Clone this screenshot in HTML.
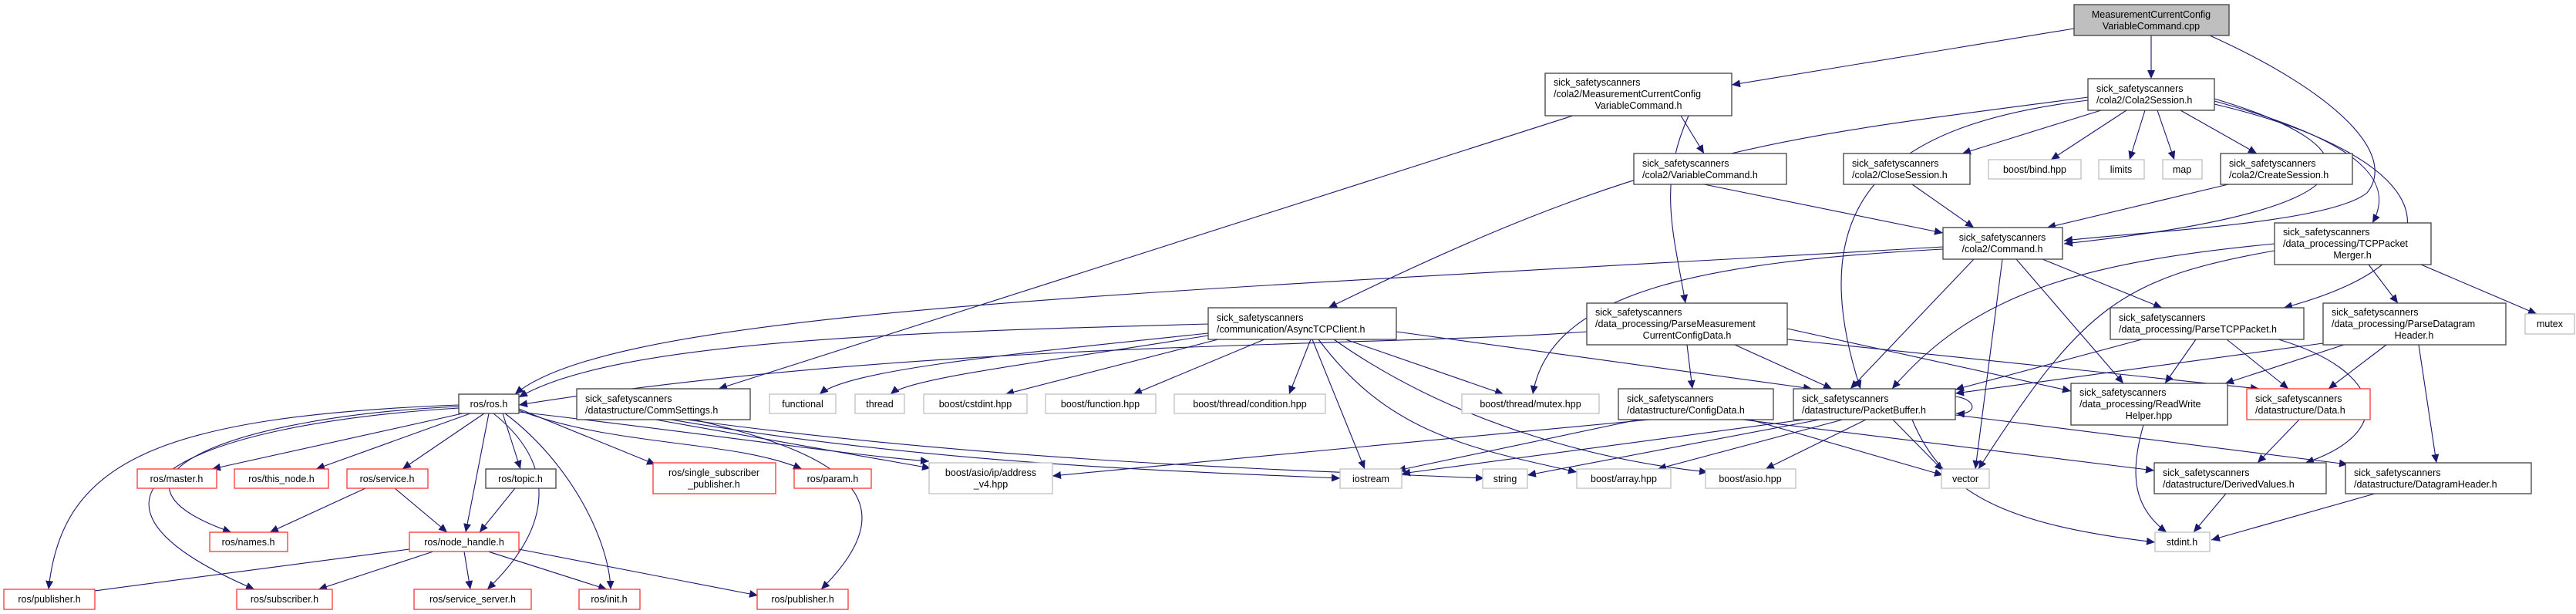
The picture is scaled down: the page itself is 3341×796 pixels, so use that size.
<!DOCTYPE html>
<html><head><meta charset="utf-8"><style>
html,body{margin:0;padding:0;background:#fff;}
svg{display:block;}
text{font-family:"Liberation Sans",sans-serif;font-size:12.5px;fill:#000;}
.n{fill:#fff;stroke:#404040;stroke-width:1.3;}
.g{fill:#fff;stroke:#bfbfbf;stroke-width:1.3;}
.r{fill:#fff;stroke:#ff3333;stroke-width:1.3;}
.e{fill:none;stroke:#191970;stroke-width:1.1;marker-end:url(#a);}
</style></head><body>
<svg width="3341" height="796" viewBox="0 0 3341 796" xmlns="http://www.w3.org/2000/svg">
<defs><marker id="a" markerUnits="userSpaceOnUse" markerWidth="12" markerHeight="10" refX="11" refY="5" orient="auto"><path d="M0,0 L11,5 L0,10 z" fill="#191970"/></marker></defs>
<g>
<path class="e" d="M2690,37 L2246,110"/>
<path class="e" d="M2790,46 L2790,102"/>
<path class="e" d="M2866,46 C3030,120 3110,200 3070,250 C3020,290 2780,300 2677,312"/>
<path class="e" d="M2725,143 L2545,199"/>
<path class="e" d="M2758,143 L2660,207"/>
<path class="e" d="M2782,143 L2762,207"/>
<path class="e" d="M2798,143 L2820,207"/>
<path class="e" d="M2828,143 L2927,199"/>
<path class="e" d="M2872,128 C3080,190 3110,270 2677,316"/>
<path class="e" d="M2872,131 C3050,180 3110,230 3077,289"/>
<path class="e" d="M2872,135 C3150,200 3220,330 2962,399"/>
<path class="e" d="M2708,126 C2300,180 2150,190 1723,399"/>
<path class="e" d="M2708,130 C2460,160 2330,250 2413,504"/>
<path class="e" d="M2210,239 L2520,302"/>
<path class="e" d="M2480,239 L2560,295"/>
<path class="e" d="M2890,239 L2655,295"/>
<path class="e" d="M2520,320 C1500,380 800,400 668,511"/>
<path class="e" d="M2520,323 C2200,340 2010,380 1988,511"/>
<path class="e" d="M2560,336 L2400,504"/>
<path class="e" d="M2615,336 L2754,497"/>
<path class="e" d="M2649,336 L2804,399"/>
<path class="e" d="M2597,336 L2562,608"/>
<path class="e" d="M2950,316 C2700,340 2560,380 2454,504"/>
<path class="e" d="M2950,325 C2750,360 2700,400 2566,608"/>
<path class="e" d="M3072,343 L3110,393"/>
<path class="e" d="M3140,343 L3290,407"/>
<path class="e" d="M2778,440 L2536,505"/>
<path class="e" d="M2848,440 L2808,497"/>
<path class="e" d="M2888,440 L2968,504"/>
<path class="e" d="M2955,440 C3090,480 3110,560 2990,600"/>
<path class="e" d="M3013,445 L2536,510"/>
<path class="e" d="M3040,447 L2886,497"/>
<path class="e" d="M3095,447 L3020,504"/>
<path class="e" d="M3137,447 L3160,600"/>
<path class="e" d="M2536,514 C2565,518 2565,538 2537,536"/>
<path class="e" d="M2536,538 L3045,602"/>
<path class="e" d="M2480,544 C2520,640 2600,680 2795,703"/>
<path class="e" d="M2340,544 L1818,614"/>
<path class="e" d="M2360,544 L1981,616"/>
<path class="e" d="M2390,544 L2150,608"/>
<path class="e" d="M2420,544 L2290,608"/>
<path class="e" d="M2455,544 L2520,610"/>
<path class="e" d="M2140,544 L1365,617"/>
<path class="e" d="M2125,544 L1812,610"/>
<path class="e" d="M2270,544 L2520,616"/>
<path class="e" d="M2260,544 L2794,610"/>
<path class="e" d="M2058,430 C1800,450 1200,440 673,525"/>
<path class="e" d="M2188,447 L2195,504"/>
<path class="e" d="M2250,447 L2376,504"/>
<path class="e" d="M2318,426 L2686,507"/>
<path class="e" d="M2318,440 L2930,504"/>
<path class="e" d="M2040,150 L932,504"/>
<path class="e" d="M2190,150 C2150,240 2170,300 2186,393"/>
<path class="e" d="M2180,150 L2210,199"/>
<path class="e" d="M1567,420 C1200,430 800,440 673,515"/>
<path class="e" d="M1567,432 C1300,460 1100,480 1063,511"/>
<path class="e" d="M1567,435 C1350,470 1180,490 1155,511"/>
<path class="e" d="M1580,440 L1304,511"/>
<path class="e" d="M1640,440 L1470,511"/>
<path class="e" d="M1700,440 L1672,511"/>
<path class="e" d="M1745,440 L1950,511"/>
<path class="e" d="M1702,440 L1770,608"/>
<path class="e" d="M1710,440 C1800,560 1900,580 2045,612"/>
<path class="e" d="M1730,440 C1900,560 2100,600 2215,612"/>
<path class="e" d="M1811,430 L2350,504"/>
<path class="e" d="M850,544 L1207,607"/>
<path class="e" d="M870,544 C1200,600 1500,610 1738,620"/>
<path class="e" d="M890,544 C1300,600 1700,610 1925,620"/>
<path class="e" d="M900,544 C1100,590 1180,650 1065,764"/>
<path class="e" d="M673,530 L850,602"/>
<path class="e" d="M673,532 C800,580 950,570 1040,608"/>
<path class="e" d="M673,534 C900,560 1100,590 1205,598"/>
<path class="e" d="M600,536 L275,608"/>
<path class="e" d="M610,536 L410,608"/>
<path class="e" d="M628,536 L522,608"/>
<path class="e" d="M652,536 L675,608"/>
<path class="e" d="M595,527 C300,540 100,620 300,690"/>
<path class="e" d="M634,536 L604,690"/>
<path class="e" d="M595,525 C200,540 80,600 63,764"/>
<path class="e" d="M595,529 C250,550 40,640 330,764"/>
<path class="e" d="M640,536 C720,600 720,680 632,764"/>
<path class="e" d="M655,536 C740,600 790,700 792,764"/>
<path class="e" d="M474,633 L350,690"/>
<path class="e" d="M512,633 L580,690"/>
<path class="e" d="M668,633 L622,690"/>
<path class="e" d="M531,712 L77,772"/>
<path class="e" d="M562,715 L413,764"/>
<path class="e" d="M602,715 L610,764"/>
<path class="e" d="M633,715 L787,764"/>
<path class="e" d="M673,712 L983,772"/>
<path class="e" d="M2982,544 L2928,600"/>
<path class="e" d="M2887,640 L2845,690"/>
<path class="e" d="M3080,640 L2868,700"/>
<path class="e" d="M2780,551 C2760,620 2770,660 2810,690"/>
</g>
<g>
<rect x="2690" y="6" width="201" height="40" fill="#bfbfbf" stroke="#404040" stroke-width="1.3"/>
<text x="2790" y="23" text-anchor="middle">MeasurementCurrentConfig</text><text x="2790" y="38" text-anchor="middle">VariableCommand.cpp</text>

<rect class="n" x="2004" y="95" width="242" height="55"/>
<text x="2015" y="111">sick_safetyscanners</text><text x="2015" y="126">/cola2/MeasurementCurrentConfig</text><text x="2125" y="141" text-anchor="middle">VariableCommand.h</text>

<rect class="n" x="2708" y="102" width="164" height="41"/>
<text x="2719" y="119">sick_safetyscanners</text><text x="2719" y="134">/cola2/Cola2Session.h</text>

<rect class="n" x="2119" y="199" width="198" height="40"/>
<text x="2130" y="216">sick_safetyscanners</text><text x="2130" y="231">/cola2/VariableCommand.h</text>

<rect class="n" x="2391" y="199" width="164" height="40"/>
<text x="2402" y="216">sick_safetyscanners</text><text x="2402" y="231">/cola2/CloseSession.h</text>

<rect class="g" x="2579" y="207" width="120" height="25"/><text x="2639" y="224" text-anchor="middle">boost/bind.hpp</text>
<rect class="g" x="2722" y="207" width="59" height="25"/><text x="2751" y="224" text-anchor="middle">limits</text>
<rect class="g" x="2805" y="207" width="51" height="25"/><text x="2830" y="224" text-anchor="middle">map</text>

<rect class="n" x="2880" y="199" width="171" height="40"/>
<text x="2891" y="216">sick_safetyscanners</text><text x="2891" y="231">/cola2/CreateSession.h</text>

<rect class="n" x="2520" y="295" width="155" height="41"/>
<text x="2597" y="312" text-anchor="middle">sick_safetyscanners</text><text x="2597" y="327" text-anchor="middle">/cola2/Command.h</text>

<rect class="n" x="2950" y="289" width="203" height="54"/>
<text x="2961" y="305">sick_safetyscanners</text><text x="2961" y="320">/data_processing/TCPPacket</text><text x="3051" y="335" text-anchor="middle">Merger.h</text>

<rect class="n" x="1567" y="399" width="244" height="41"/>
<text x="1578" y="416">sick_safetyscanners</text><text x="1578" y="431">/communication/AsyncTCPClient.h</text>

<rect class="n" x="2058" y="393" width="260" height="54"/>
<text x="2069" y="409">sick_safetyscanners</text><text x="2069" y="424">/data_processing/ParseMeasurement</text><text x="2188" y="439" text-anchor="middle">CurrentConfigData.h</text>

<rect class="n" x="2737" y="399" width="251" height="41"/>
<text x="2748" y="416">sick_safetyscanners</text><text x="2748" y="431">/data_processing/ParseTCPPacket.h</text>

<rect class="n" x="3013" y="393" width="237" height="54"/>
<text x="3024" y="409">sick_safetyscanners</text><text x="3024" y="424">/data_processing/ParseDatagram</text><text x="3131" y="439" text-anchor="middle">Header.h</text>

<rect class="g" x="3275" y="407" width="64" height="26"/><text x="3307" y="424" text-anchor="middle">mutex</text>

<rect class="n" x="595" y="511" width="78" height="25"/><text x="634" y="528" text-anchor="middle">ros/ros.h</text>

<rect class="n" x="748" y="504" width="225" height="40"/>
<text x="759" y="521">sick_safetyscanners</text><text x="759" y="536">/datastructure/CommSettings.h</text>

<rect class="g" x="998" y="511" width="86" height="25"/><text x="1041" y="528" text-anchor="middle">functional</text>
<rect class="g" x="1109" y="511" width="64" height="25"/><text x="1141" y="528" text-anchor="middle">thread</text>
<rect class="g" x="1198" y="511" width="134" height="25"/><text x="1265" y="528" text-anchor="middle">boost/cstdint.hpp</text>
<rect class="g" x="1356" y="511" width="143" height="25"/><text x="1427" y="528" text-anchor="middle">boost/function.hpp</text>
<rect class="g" x="1523" y="511" width="196" height="25"/><text x="1621" y="528" text-anchor="middle">boost/thread/condition.hpp</text>
<rect class="g" x="1896" y="511" width="178" height="25"/><text x="1985" y="528" text-anchor="middle">boost/thread/mutex.hpp</text>

<rect class="n" x="2099" y="504" width="201" height="40"/>
<text x="2110" y="521">sick_safetyscanners</text><text x="2110" y="536">/datastructure/ConfigData.h</text>

<rect class="n" x="2326" y="504" width="210" height="40"/>
<text x="2337" y="521">sick_safetyscanners</text><text x="2337" y="536">/datastructure/PacketBuffer.h</text>

<rect class="n" x="2686" y="497" width="203" height="54"/>
<text x="2697" y="513">sick_safetyscanners</text><text x="2697" y="528">/data_processing/ReadWrite</text><text x="2787" y="543" text-anchor="middle">Helper.hpp</text>

<rect class="r" x="2914" y="504" width="160" height="40"/>
<text x="2925" y="521">sick_safetyscanners</text><text x="2925" y="536">/datastructure/Data.h</text>

<rect class="r" x="178" y="608" width="103" height="25"/><text x="229" y="625" text-anchor="middle">ros/master.h</text>
<rect class="r" x="304" y="608" width="122" height="25"/><text x="365" y="625" text-anchor="middle">ros/this_node.h</text>
<rect class="r" x="450" y="608" width="105" height="25"/><text x="502" y="625" text-anchor="middle">ros/service.h</text>
<rect class="n" x="630" y="608" width="91" height="25"/><text x="675" y="625" text-anchor="middle">ros/topic.h</text>
<rect class="r" x="847" y="600" width="159" height="40"/><text x="926" y="617" text-anchor="middle">ros/single_subscriber</text><text x="926" y="632" text-anchor="middle">_publisher.h</text>
<rect class="r" x="1030" y="608" width="100" height="25"/><text x="1080" y="625" text-anchor="middle">ros/param.h</text>
<rect class="g" x="1205" y="600" width="160" height="40"/><text x="1285" y="617" text-anchor="middle">boost/asio/ip/address</text><text x="1285" y="632" text-anchor="middle">_v4.hpp</text>
<rect class="g" x="1738" y="608" width="80" height="25"/><text x="1778" y="625" text-anchor="middle">iostream</text>
<rect class="g" x="1923" y="608" width="58" height="25"/><text x="1952" y="625" text-anchor="middle">string</text>
<rect class="g" x="2045" y="608" width="122" height="25"/><text x="2106" y="625" text-anchor="middle">boost/array.hpp</text>
<rect class="g" x="2212" y="608" width="117" height="25"/><text x="2270" y="625" text-anchor="middle">boost/asio.hpp</text>
<rect class="g" x="2518" y="608" width="62" height="25"/><text x="2549" y="625" text-anchor="middle">vector</text>

<rect class="n" x="2794" y="600" width="223" height="40"/>
<text x="2805" y="617">sick_safetyscanners</text><text x="2805" y="632">/datastructure/DerivedValues.h</text>
<rect class="n" x="3042" y="600" width="241" height="40"/>
<text x="3053" y="617">sick_safetyscanners</text><text x="3053" y="632">/datastructure/DatagramHeader.h</text>

<rect class="r" x="272" y="690" width="101" height="25"/><text x="322" y="707" text-anchor="middle">ros/names.h</text>
<rect class="r" x="531" y="690" width="142" height="25"/><text x="602" y="707" text-anchor="middle">ros/node_handle.h</text>
<rect class="g" x="2795" y="690" width="71" height="25"/><text x="2830" y="707" text-anchor="middle">stdint.h</text>

<rect class="r" x="5" y="764" width="118" height="26"/><text x="64" y="781" text-anchor="middle">ros/publisher.h</text>
<rect class="r" x="307" y="764" width="124" height="26"/><text x="369" y="781" text-anchor="middle">ros/subscriber.h</text>
<rect class="r" x="537" y="764" width="152" height="26"/><text x="613" y="781" text-anchor="middle">ros/service_server.h</text>
<rect class="r" x="751" y="764" width="79" height="26"/><text x="790" y="781" text-anchor="middle">ros/init.h</text>
<rect class="r" x="982" y="764" width="118" height="26"/><text x="1041" y="781" text-anchor="middle">ros/publisher.h</text>
</g>
</svg>
</body></html>
